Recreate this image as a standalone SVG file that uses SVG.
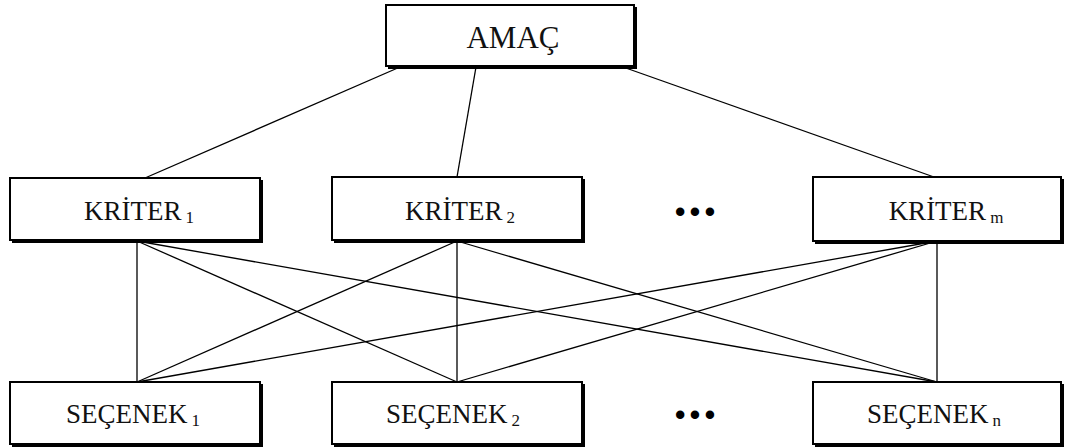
<svg xmlns="http://www.w3.org/2000/svg" width="1065" height="447" viewBox="0 0 1065 447">
<style>
.box{fill:#fff;stroke:#000;stroke-width:2}
.sh{fill:none;stroke:#000;stroke-width:2}
.t{font-family:"Liberation Serif","Times New Roman",serif;font-size:27px;fill:#111;text-anchor:middle}
.sub{font-size:17px}
.c line{stroke:#000;stroke-width:1.3}
.dots{font-family:"Liberation Sans",Arial,sans-serif;font-size:31px;fill:#000;text-anchor:middle;letter-spacing:4px}
</style>
<rect width="1065" height="447" fill="#fff"/>
<g class="c" id="connectors">
<line x1="400" y1="67" x2="145" y2="178"/>
<line x1="476" y1="67" x2="457" y2="177"/>
<line x1="623" y1="67" x2="934" y2="177"/>
<line x1="137" y1="241" x2="137" y2="382"/>
<line x1="137" y1="241" x2="457" y2="382"/>
<line x1="137" y1="241" x2="937" y2="382"/>
<line x1="457" y1="241" x2="137" y2="382"/>
<line x1="457" y1="241" x2="457" y2="382"/>
<line x1="457" y1="241" x2="937" y2="382"/>
<line x1="937" y1="241" x2="137" y2="382"/>
<line x1="937" y1="241" x2="457" y2="382"/>
<line x1="937" y1="241" x2="937" y2="382"/>
</g>
<g id="amac">
<rect class="box" x="386" y="5" width="248" height="61"/>
<path class="sh" d="M636 7 V68 H388"/>
<text class="t" x="513" y="48" style="font-size:31px">AMAÇ</text>
</g>
<g id="kriter1">
<rect class="box" x="10" y="178" width="250" height="62"/>
<path class="sh" d="M262 180 V242 H12"/>
<text class="t" x="139" y="220">KRİTER<tspan class="sub" dx="4" dy="3">1</tspan></text>
</g>
<g id="kriter2">
<rect class="box" x="332" y="177" width="250" height="63"/>
<path class="sh" d="M584 179 V242 H334"/>
<text class="t" x="460" y="220">KRİTER<tspan class="sub" dx="4" dy="3">2</tspan></text>
</g>
<g id="kriterm">
<rect class="box" x="813" y="177" width="248" height="64"/>
<path class="sh" d="M1063 179 V243 H815"/>
<text class="t" x="946" y="220">KRİTER<tspan class="sub" dx="4" dy="3">m</tspan></text>
</g>
<g id="dots1"><text class="dots" x="697" y="222">•••</text></g>
<g id="secenek1">
<rect class="box" x="10" y="382" width="250" height="62"/>
<path class="sh" d="M262 384 V446 H12"/>
<text class="t" x="133" y="423">SEÇENEK<tspan class="sub" dx="4" dy="3">1</tspan></text>
</g>
<g id="secenek2">
<rect class="box" x="332" y="382" width="250" height="62"/>
<path class="sh" d="M584 384 V446 H334"/>
<text class="t" x="453" y="423">SEÇENEK<tspan class="sub" dx="4" dy="3">2</tspan></text>
</g>
<g id="seceneken">
<rect class="box" x="813" y="382" width="248" height="62"/>
<path class="sh" d="M1063 384 V446 H815"/>
<text class="t" x="934" y="423">SEÇENEK<tspan class="sub" dx="4" dy="3">n</tspan></text>
</g>
<g id="dots2"><text class="dots" x="697" y="425">•••</text></g>
</svg>
